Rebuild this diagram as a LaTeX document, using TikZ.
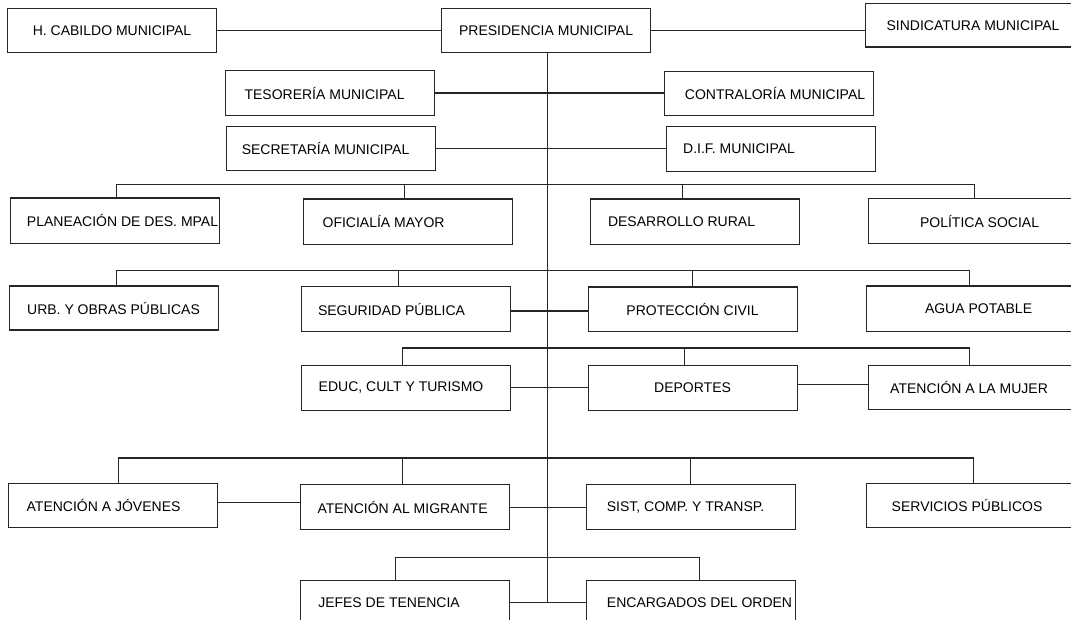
\documentclass[tikz,border=0pt]{standalone}
\usepackage{fontspec}
\setmainfont{Liberation Sans}
\tikzset{
  caja/.style={draw=black!85,line width=1.1pt,anchor=north west,minimum width=209pt,
    minimum height=44pt,inner sep=0pt,font=\fontsize{14}{16}\selectfont},
  cajader/.style={caja,minimum width=215pt},
  linea/.style={line width=1.1pt,black!85}
}
\begin{document}
\begin{tikzpicture}[x=1pt,y=-1pt]

    \useasboundingbox (0,0) rectangle (1071,620);

    % -- Levels of the horizontal bus lines --
    \coordinate (busa) at (0,184.5);   % planeacion ... politica social
    \coordinate (busb) at (0,270.5);   % urb ... agua potable
    \coordinate (busc) at (0,348);     % educ ... mujer
    \coordinate (busd) at (0,458);     % jovenes ... servicios
    \coordinate (buse) at (0,557.5);   % jefes / encargados

    % -- Top row --
    \node[caja] (hcab) at (7,8) {H. CABILDO MUNICIPAL};
    \node[caja] (pres) at (441,8) {PRESIDENCIA MUNICIPAL};
    \node[cajader,minimum height=43.5pt] (sind) at (865,3) {SINDICATURA MUNICIPAL};

    % -- Staff offices --
    \node[caja,minimum height=45pt] (tes) at (225,70) {TESORERÍA MUNICIPAL\hspace*{11pt}};
    \node[caja] (cont) at (664,71) {\hspace*{12pt}CONTRALORÍA MUNICIPAL};
    \node[caja] (sec) at (226,126) {SECRETARÍA MUNICIPAL\hspace*{11pt}};
    \node[caja,minimum height=45pt] (dif) at (666,126) {D.I.F. MUNICIPAL\hspace*{64pt}};

    % -- Row 3 --
    \node[caja,minimum height=45.5pt] (plan) at (10,197.5) {\hspace*{15pt}PLANEACIÓN DE DES. MPAL};
    \node[caja,minimum height=45.5pt] (ofi) at (303,198.5) {OFICIALÍA MAYOR\hspace*{49pt}};
    \node[caja,minimum height=45.5pt] (des) at (590,198.5) {DESARROLLO RURAL\hspace*{27pt}};
    \node[cajader,minimum height=45pt] (pol) at (868,198) {\hspace*{7pt}POLÍTICA SOCIAL};

    % -- Row 4 --
    \node[caja] (urb) at (8.5,285.5) {URB. Y OBRAS PÚBLICAS};
    \node[caja,minimum height=45pt] (seg) at (300.5,286) {SEGURIDAD PÚBLICA\hspace*{28pt}};
    \node[caja,minimum height=44.5pt] (prot) at (587.5,286.5) {PROTECCIÓN CIVIL};
    \node[cajader,minimum height=45.5pt] (agua) at (866,285.5) {\hspace*{9pt}AGUA POTABLE};

    % -- Row 5 --
    \node[caja,minimum height=45.5pt] (educ) at (300.5,364.5) {EDUC, CULT Y TURISMO\hspace*{9pt}};
    \node[caja,minimum height=45.5pt] (dep) at (587.5,364.5) {DEPORTES};
    \node[cajader] (muj) at (867.5,364.5) {ATENCIÓN A LA MUJER\hspace*{13pt}};

    % -- Row 6 --
    \node[caja,minimum height=43.5pt] (jov) at (7.5,483) {ATENCIÓN A JÓVENES\hspace*{18pt}};
    \node[caja,minimum height=45pt] (mig) at (299.5,484) {ATENCIÓN AL MIGRANTE\hspace*{4pt}};
    \node[caja,minimum height=45pt] (sist) at (586,484) {SIST, COMP. Y TRANSP.\hspace*{11pt}};
    \node[cajader,minimum height=43.5pt] (serv) at (866,483) {SERVICIOS PÚBLICOS\hspace*{14pt}};

    % -- Row 7 (cut by the lower edge) --
    \node[caja] (jef) at (300,580) {JEFES DE TENENCIA\hspace*{32pt}};
    \node[caja] (enc) at (586,580) {\hspace*{17pt}ENCARGADOS DEL ORDEN};

    % -- Main trunk and top links --
    \draw[linea] ([xshift=1.5pt]pres.south) -- ([xshift=1.5pt]pres.south |- jef.east);
    \draw[linea] (hcab) -- (pres);
    \draw[linea] (pres.east) -- (pres.east -| sind.west);
    \draw[linea] (tes.east) -- (tes.east -| cont.west);
    \draw[linea] (sec.east) -- (sec.east -| dif.west);

    % -- Row 3 bus --
    \draw[linea] ([xshift=1.5pt]plan.north) -- ([xshift=1.5pt]plan.north |- busa)
      -| ([xshift=-2pt]pol.north);
    \draw[linea] ([xshift=-4pt]ofi.north) -- ([xshift=-4pt]ofi.north |- busa);
    \draw[linea] ([xshift=-13pt]des.north) -- ([xshift=-13pt]des.north |- busa);

    % -- Row 4 bus --
    \draw[linea] ([xshift=3pt]urb.north) -- ([xshift=3pt]urb.north |- busb)
      -| ([xshift=-4.5pt]agua.north);
    \draw[linea] ([xshift=-7pt]seg.north) -- ([xshift=-7pt]seg.north |- busb);
    \draw[linea] (prot.north) -- (prot.north |- busb);
    \draw[linea] ([yshift=-2pt]seg.east) -- ([yshift=-2pt]seg.east -| prot.west);

    % -- Row 5 bus --
    \draw[linea] ([xshift=-3pt]educ.north) -- ([xshift=-3pt]educ.north |- busc)
      -| ([xshift=-6pt]muj.north);
    \draw[linea] ([xshift=-8pt]dep.north) -- ([xshift=-8pt]dep.north |- busc);
    \draw[linea] (educ.east) -- (educ.east -| dep.west);
    \draw[linea] ([yshift=3pt]dep.east) -- ([yshift=3pt]dep.east -| muj.west);

    % -- Row 6 bus --
    \draw[linea] ([xshift=6pt]jov.north) -- ([xshift=6pt]jov.north |- busd)
      -| ([xshift=-1pt]serv.north);
    \draw[linea] ([xshift=-2pt]mig.north) -- ([xshift=-2pt]mig.north |- busd);
    \draw[linea] ([xshift=-1pt]sist.north) -- ([xshift=-1pt]sist.north |- busd);
    \draw[linea] ([yshift=3pt]jov.east) -- ([yshift=3pt]jov.east -| mig.west);
    \draw[linea] (mig.east) -- (mig.east -| sist.west);

    % -- Row 7 bus --
    \draw[linea] ([xshift=-9.5pt]jef.north) -- ([xshift=-9.5pt]jef.north |- buse)
      -| ([xshift=8.5pt]enc.north);
    \draw[linea] (jef.east) -- (jef.east -| enc.west);

\end{tikzpicture}
\end{document}
